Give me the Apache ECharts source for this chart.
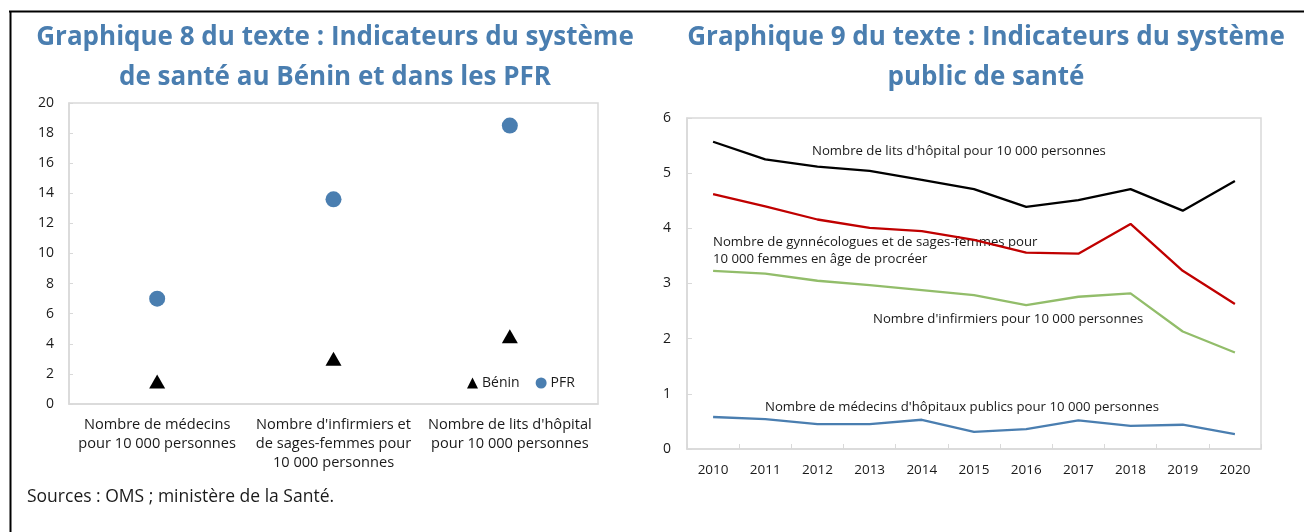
<!DOCTYPE html>
<html>
<head>
<meta charset="utf-8">
<script src="https://cdn.jsdelivr.net/npm/echarts@6.0.0/dist/echarts.min.js"></script>
<style>
  html, body { margin:0; padding:0; background:#fff; }
  #chart { width:1304px; height:532px; }
</style>
</head>
<body>
<div id="chart"></div>
<script>
// --- Graphique 8 ---
const indicateurs = [
  'Nombre de médecins\npour 10 000 personnes',
  "Nombre d'infirmiers et\nde sages-femmes pour\n10 000 personnes",
  "Nombre de lits d'hôpital\npour 10 000 personnes"
];
const benin = [1.5, 3.0, 4.5];
const pfr = [7.0, 13.6, 18.5];
const ticks8 = { min: 0, max: 20, interval: 2 };

// --- Graphique 9 ---
const annees = ['2010','2011','2012','2013','2014','2015','2016','2017','2018','2019','2020'];
const lits = [5.57, 5.25, 5.12, 5.04, 4.88, 4.71, 4.39, 4.51, 4.71, 4.32, 4.86];
const gyneco = [4.62, 4.40, 4.16, 4.01, 3.95, 3.79, 3.56, 3.54, 4.08, 3.23, 2.63];
const infirmiers = [3.23, 3.18, 3.05, 2.97, 2.88, 2.79, 2.61, 2.76, 2.82, 2.13, 1.75];
const medecins = [0.58, 0.54, 0.45, 0.45, 0.53, 0.31, 0.36, 0.52, 0.42, 0.44, 0.27];
const ticks9 = { min: 0, max: 6, interval: 1 };

const FONT = '"Open Sans", "Noto Sans", sans-serif';
const TITLE_BLUE = '#4a7eb0';
const GRID_GRAY = '#d9d9d9';
const TXT = '#1a1a1a';

const chart = echarts.init(document.getElementById('chart'), null, { renderer: 'canvas' });

const titleStyle = { color: TITLE_BLUE, fontFamily: FONT, fontWeight: 'bold', fontSize: 26, lineHeight: 40 };

chart.setOption({
  backgroundColor: '#fff',
  animation: false,
  textStyle: { fontFamily: FONT },
  title: [
    { text: 'Graphique 8 du texte : Indicateurs du système\nde santé au Bénin et dans les PFR',
      left: 330, top: 13, textAlign: 'center', textStyle: titleStyle },
    { text: 'Graphique 9 du texte : Indicateurs du système\npublic de santé',
      left: 981, top: 13, textAlign: 'center', textStyle: titleStyle }
  ],
  legend: {
    data: [
      { name: 'Bénin', icon: 'triangle' },
      { name: 'PFR', icon: 'circle' }
    ],
    left: 462, top: 371,
    itemWidth: 11, itemHeight: 11, itemGap: 16,
    textStyle: { color: TXT, fontSize: 14, fontFamily: FONT, padding: [0, 0, 0, -1] }
  },
  grid: [
    { left: 69, top: 103, width: 529, height: 301, show: true, borderColor: GRID_GRAY, borderWidth: 1.5, containLabel: false },
    { left: 687, top: 118, width: 574, height: 331, show: true, borderColor: GRID_GRAY, borderWidth: 1.5, containLabel: false }
  ],
  xAxis: [
    { type: 'category', gridIndex: 0, data: indicateurs, boundaryGap: true,
      axisLine: { lineStyle: { color: GRID_GRAY, width: 1.5 } },
      axisTick: { show: false },
      axisLabel: { color: TXT, fontSize: 14.6, lineHeight: 19, margin: 11, interval: 0, fontFamily: FONT } },
    { type: 'category', gridIndex: 1, data: annees, boundaryGap: true,
      axisLine: { lineStyle: { color: GRID_GRAY, width: 1.5 } },
      axisTick: { show: true, inside: true, length: 5, alignWithLabel: false, lineStyle: { color: GRID_GRAY } },
      axisLabel: { color: TXT, fontSize: 13.5, margin: 14, interval: 0, fontFamily: FONT } }
  ],
  yAxis: [
    { type: 'value', gridIndex: 0, min: ticks8.min, max: ticks8.max, interval: ticks8.interval,
      axisLine: { show: true, lineStyle: { color: GRID_GRAY, width: 1.5 } },
      axisTick: { show: true, inside: true, length: 4, lineStyle: { color: GRID_GRAY } },
      splitLine: { show: false },
      axisLabel: { color: TXT, fontSize: 14, margin: 15, fontFamily: FONT } },
    { type: 'value', gridIndex: 1, min: ticks9.min, max: ticks9.max, interval: ticks9.interval,
      axisLine: { show: true, lineStyle: { color: GRID_GRAY, width: 1.5 } },
      axisTick: { show: true, inside: true, length: 5, lineStyle: { color: GRID_GRAY } },
      splitLine: { show: false },
      axisLabel: { color: TXT, fontSize: 14, margin: 16, fontFamily: FONT } }
  ],
  series: [
    { name: 'Bénin', type: 'scatter', xAxisIndex: 0, yAxisIndex: 0, data: benin,
      symbol: 'triangle', symbolSize: [16, 14], itemStyle: { color: '#000', opacity: 1 } },
    { name: 'PFR', type: 'scatter', xAxisIndex: 0, yAxisIndex: 0, data: pfr,
      symbol: 'circle', symbolSize: 16, itemStyle: { color: TITLE_BLUE, opacity: 1 } },
    { name: 'lits', type: 'line', xAxisIndex: 1, yAxisIndex: 1, data: lits, showSymbol: false,
      lineStyle: { color: '#000', width: 2.3 } },
    { name: 'gyneco', type: 'line', xAxisIndex: 1, yAxisIndex: 1, data: gyneco, showSymbol: false,
      lineStyle: { color: '#c00000', width: 2.3 } },
    { name: 'infirmiers', type: 'line', xAxisIndex: 1, yAxisIndex: 1, data: infirmiers, showSymbol: false,
      lineStyle: { color: '#92bd6a', width: 2.3 } },
    { name: 'medecins', type: 'line', xAxisIndex: 1, yAxisIndex: 1, data: medecins, showSymbol: false,
      lineStyle: { color: '#4a7eb0', width: 2.3 } }
  ],
  graphic: [
    // cadre
    { type: 'line', shape: { x1: 9, y1: 11.5, x2: 1304, y2: 11.5 }, style: { stroke: '#000', lineWidth: 2 } },
    { type: 'line', shape: { x1: 10.5, y1: 11, x2: 10.5, y2: 532 }, style: { stroke: '#000', lineWidth: 2 } },
    // annotations graphique 9
    { type: 'text', left: 812, top: 145, style: { text: "Nombre de lits d'hôpital pour 10 000 personnes", fill: TXT, fontSize: 13.2, fontFamily: FONT } },
    { type: 'text', left: 713, top: 234, style: { text: 'Nombre de gynnécologues et de sages-femmes pour\n10 000 femmes en âge de procréer', fill: TXT, fontSize: 13.2, lineHeight: 17, fontFamily: FONT } },
    { type: 'text', left: 873, top: 313, style: { text: "Nombre d'infirmiers pour 10 000 personnes", fill: TXT, fontSize: 13.2, fontFamily: FONT } },
    { type: 'text', left: 765, top: 401, style: { text: "Nombre de médecins d'hôpitaux publics pour 10 000 personnes", fill: TXT, fontSize: 13.2, fontFamily: FONT } },
    // source
    { type: 'text', left: 27, top: 488, style: { text: 'Sources : OMS ; ministère de la Santé.', fill: TXT, fontSize: 17.5, fontFamily: FONT } }
  ]
});
</script>
</body>
</html>
